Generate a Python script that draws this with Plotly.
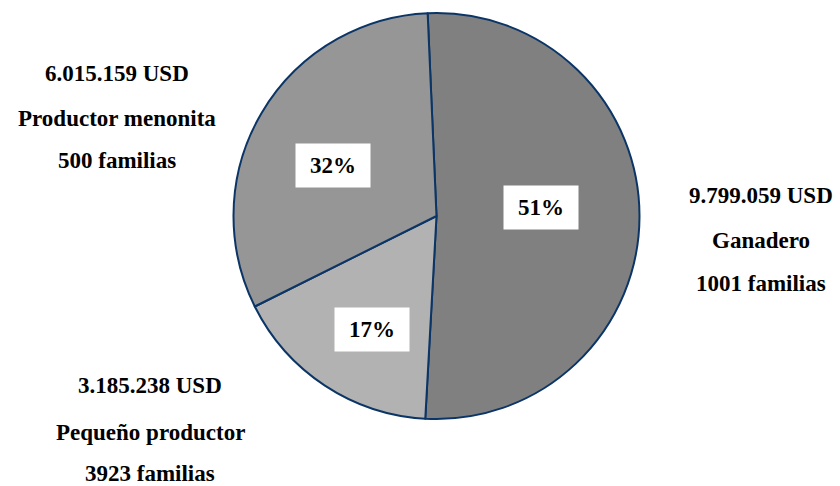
import plotly.graph_objects as go

W, H = 840, 486

# Income by producer type (USD), families and the printed shares
groups = ["Ganadero", "Pequeño productor", "Productor menonita"]
income_usd = [9799059, 3185238, 6015159]
income_text = ["9.799.059 USD", "3.185.238 USD", "6.015.159 USD"]
families = [1001, 3923, 500]
share_text = ["51%", "17%", "32%"]

slice_colors = ["#808080", "#b2b2b2", "#969696"]
edge_color = "#0b3566"
serif = "Liberation Serif, Times New Roman, serif"

# pie geometry in pixels
cx, cy, r = 436.5, 216, 203

fig = go.Figure(
    go.Pie(
        labels=groups,
        values=income_usd,
        sort=False,
        direction="clockwise",
        rotation=-2.5,
        textinfo="none",
        hoverinfo="label+value",
        marker=dict(colors=slice_colors, line=dict(color=edge_color, width=2)),
        domain=dict(x=[(cx - r) / W, (cx + r) / W], y=[1 - (cy + r) / H, 1 - (cy - r) / H]),
        showlegend=False,
    )
)


def px(x, y):
    return x / W, 1 - y / H


annotations = []

# share boxes inside slices
share_pos = [(541, 207), (371.5, 329), (332.5, 165.5)]
for txt, (x, y) in zip(share_text, share_pos):
    ax, ay = px(x, y)
    annotations.append(dict(
        x=ax, y=ay, xref="paper", yref="paper", text=f"<b>{txt}</b>",
        xanchor="center", yanchor="middle",
        showarrow=False, bgcolor="white", width=72, height=41,
        font=dict(family=serif, size=23, color="black"),
    ))

# outer labels: amount, group name, families
outer_pos = [
    (761, [195, 240, 283]),
    (150, [385, 432, 473]),
    (117, [73, 118, 160]),
]
for i, (x, ys) in enumerate(outer_pos):
    lines = [income_text[i], groups[i], f"{families[i]} familias"]
    for line, y in zip(lines, ys):
        ax, ay = px(x, y)
        annotations.append(dict(
            x=ax, y=ay, xref="paper", yref="paper", text=f"<b>{line}</b>",
            xanchor="center", yanchor="middle",
            showarrow=False, font=dict(family=serif, size=23, color="black"),
        ))

fig.update_layout(
    width=W, height=H,
    margin=dict(l=0, r=0, t=0, b=0),
    paper_bgcolor="white", plot_bgcolor="white",
    annotations=annotations,
)

fig.write_html("out.html")
